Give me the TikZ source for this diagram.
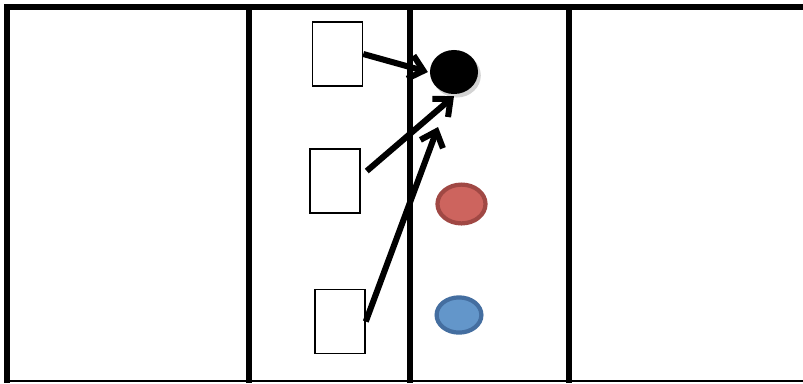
\documentclass[tikz,border=0pt]{standalone}
\usepackage{tikz}
\usetikzlibrary{arrows.meta,shapes.geometric,shadows}
\usepackage{xcolor}
\definecolor{dotred}{RGB}{205,100,94}
\definecolor{dotredline}{RGB}{160,72,68}
\definecolor{dotblue}{RGB}{99,150,202}
\definecolor{dotblueline}{RGB}{68,110,160}

\begin{document}
\begin{tikzpicture}[x=0.025cm, y=-0.025cm,
    wall/.style={line width=4.5pt, black},
    lane/.style={line width=3.8pt, black},
    card/.style={rectangle, draw, line width=1.1pt, fill=white,
        minimum width=1.25cm, minimum height=1.6cm, inner sep=0pt},
    dot/.style={ellipse, inner sep=0pt, line width=3pt},
    arr/.style={-{Straight Barb[length=3.4mm, width=6mm]}, line width=4.3pt}
]
    \useasboundingbox (0,0) rectangle (803,383);

    % === Frame and lanes ===
    \draw[line width=1.5pt] (7,381) -- (803,381);
    \draw[wall] (803,7) -- (7,7) -- (7,383);
    \foreach \lx in {249,410,569}
        \draw[lane] (\lx,7) -- (\lx,383);

    % === Cards ===
    \node[card] (top) at (337.5,54) {};
    \node[card] (mid) at (335,181) {};
    \node[card] (low) at (340,321.5) {};

    % === Dots ===
    \node[dot, fill=black, minimum width=1.2cm, minimum height=1.1cm,
        drop shadow={shadow xshift=2pt, shadow yshift=-2.5pt, opacity=0.35}] (goal) at (454,72) {};
    \node[dot, fill=dotred, draw=dotredline, minimum width=1.2cm, minimum height=0.97cm] (red) at (461.5,204) {};
    \node[dot, fill=dotblue, draw=dotblueline, minimum width=1.12cm, minimum height=0.88cm] (blue) at (459,315) {};

    % === Moves ===
    \coordinate (hit) at (438,127);
    \draw[arr] (top.east) -- (goal.west);
    \draw[arr] ([shift={(6,-10)}]mid.east) -- (goal.south);
    \draw[arr] (low.east) -- (hit);
\end{tikzpicture}
\end{document}
